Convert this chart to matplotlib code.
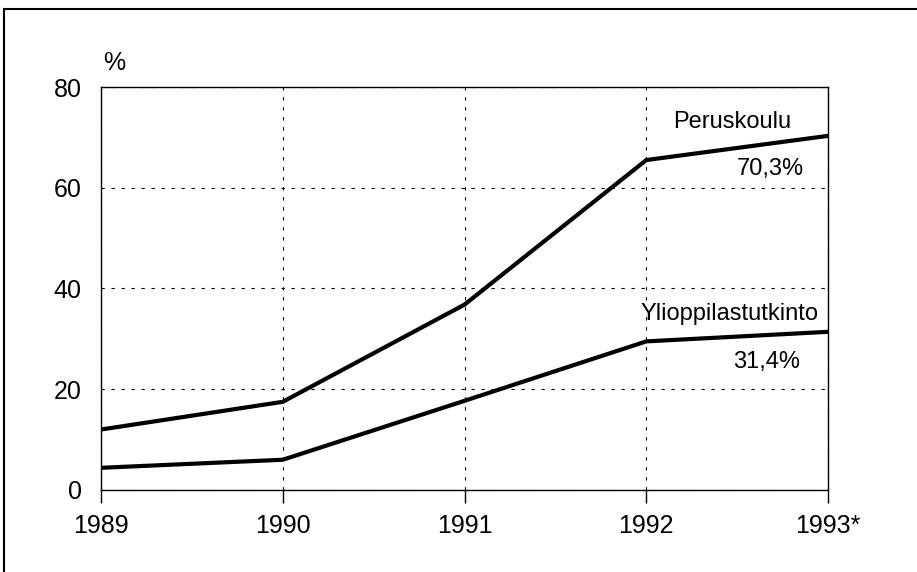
import matplotlib.pyplot as plt
from matplotlib.lines import Line2D

plt.rcParams['font.family'] = ['Liberation Sans', 'DejaVu Sans']

years = [1989, 1990, 1991, 1992, 1993]
year_labels = ['1989', '1990', '1991', '1992', '1993*']
peruskoulu = [12.0, 17.5, 36.8, 65.5, 70.3]
ylioppilas = [4.4, 6.0, 17.7, 29.5, 31.4]

fig = plt.figure(figsize=(9.17, 5.72), dpi=100)
ax = fig.add_axes([0.1101, 0.1434, 0.7929, 0.7045])

# frame of the page: only top and left edges are visible
fig.lines.append(Line2D([0.0045, 1.0], [0.985, 0.985], transform=fig.transFigure,
                        color='black', linewidth=1.5))
fig.lines.append(Line2D([0.0045, 0.0045], [0.0, 0.985], transform=fig.transFigure,
                        color='black', linewidth=1.5))

ax.plot(years, peruskoulu, color='black', linewidth=3, solid_joinstyle='miter', zorder=3)
ax.plot(years, ylioppilas, color='black', linewidth=3, solid_joinstyle='miter', zorder=3)

ax.set_xlim(1989, 1993)
ax.set_ylim(0, 80)
ax.set_xticks(years)
ax.set_xticklabels(year_labels)
ax.set_yticks([0, 20, 40, 60, 80])
ax.tick_params(axis='x', direction='out', length=9, width=1, labelsize=18, pad=8)
ax.tick_params(axis='y', length=0, labelsize=18, pad=14)

ax.grid(True, color='black', linestyle=(0, (3, 6)), linewidth=0.8)
for s in ax.spines.values():
    s.set_linewidth(1)

ax.text(0.003, 1.06, '%', transform=ax.transAxes, fontsize=18, ha='left', va='center')

ax.text(1992.47, 73.0, 'Peruskoulu', fontsize=17, ha='center', va='center')
ax.text(1992.68, 63.7, '70,3%', fontsize=17, ha='center', va='center')
ax.text(1992.46, 34.9, 'Ylioppilastutkinto', fontsize=17, ha='center', va='center')
ax.text(1992.66, 25.5, '31,4%', fontsize=17, ha='center', va='center')

fig.savefig('out.png', dpi=100)
